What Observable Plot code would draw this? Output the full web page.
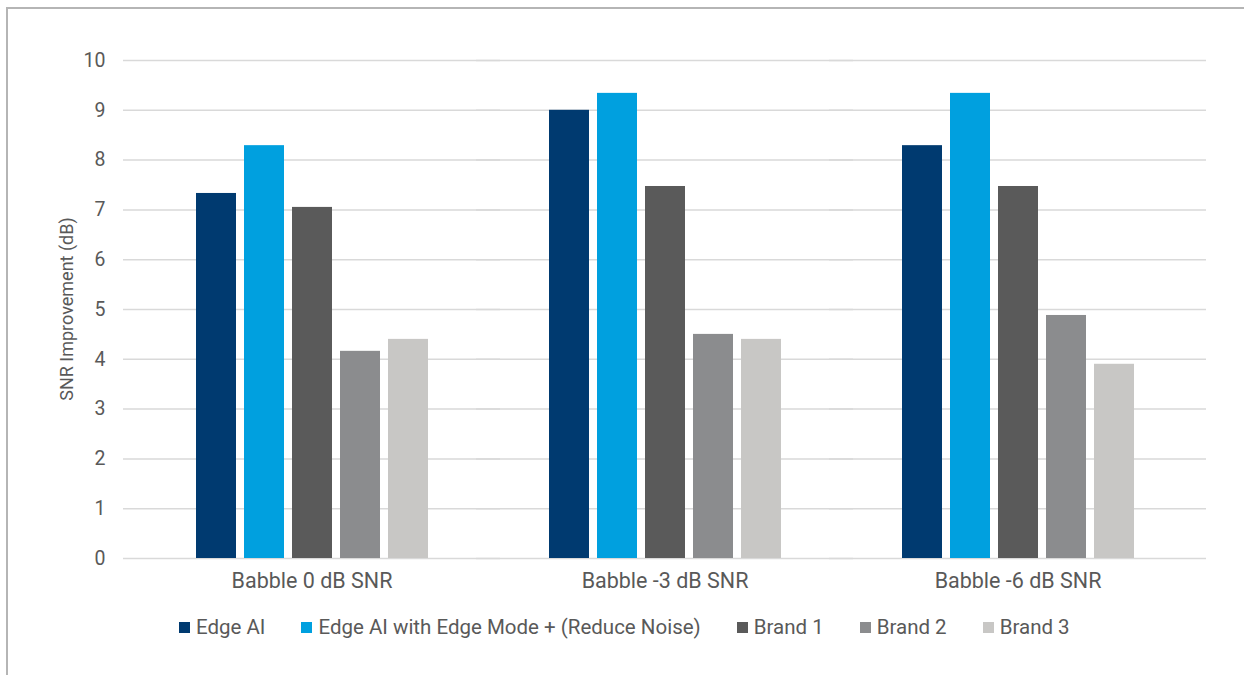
<!DOCTYPE html>
<html>
<head>
<meta charset="utf-8">
<script src="https://cdn.jsdelivr.net/npm/d3@7"></script>
<script src="https://cdn.jsdelivr.net/npm/@observablehq/plot@0.6"></script>
<style>
  html, body { margin: 0; padding: 0; background: #fff; }
  #wrap { position: relative; width: 1244px; height: 675px; overflow: hidden; font-family: Roboto, sans-serif; color: #595959; }
  #frame { position: absolute; left: 6px; top: 7px; width: 1300px; height: 700px; border-top: 2px solid #b5b5b5; border-left: 2px solid #b5b5b5; box-sizing: border-box; }
  #chart { position: absolute; left: 0; top: 0; }
  #legend { position: absolute; left: 179px; top: 615px; display: flex; align-items: center; font-size: 20.5px; white-space: nowrap; }
  .item { display: flex; align-items: center; margin-right: 36px; }
  .sw { width: 11px; height: 11px; margin-right: 6px; }
  #ylabel { position: absolute; left: 66px; top: 309px; transform: translate(-50%, -50%) rotate(-90deg); font-size: 18px; white-space: nowrap; }
  g[aria-label="fx-axis tick label"] text { font-size: 21.5px; }
  g[aria-label="y-axis tick label"] text { font-size: 19.5px; }
</style>
</head>
<body>
<div id="wrap">
  <div id="frame"></div>
  <div id="chart"></div>
  <div id="ylabel"></div>
  <div id="legend"></div>
</div>
<script>
const groups = ["Babble 0 dB SNR", "Babble -3 dB SNR", "Babble -6 dB SNR"];
const series = ["Edge AI", "Edge AI with Edge Mode + (Reduce Noise)", "Brand 1", "Brand 2", "Brand 3"];
const colors = ["#003a70", "#00a0df", "#5a5a5a", "#8b8c8e", "#c8c7c5"];
const edgeAI   = [7.33, 9.00, 8.29];
const edgeMode = [8.29, 9.34, 9.34];
const brand1   = [7.05, 7.47, 7.47];
const brand2   = [4.16, 4.50, 4.88];
const brand3   = [4.40, 4.40, 3.90];
const yTicks = [0, 1, 2, 3, 4, 5, 6, 7, 8, 9, 10];
const yLabel = "SNR Improvement (dB)";

const valuesBySeries = [edgeAI, edgeMode, brand1, brand2, brand3];
const table = [];
groups.forEach((g, gi) => {
  series.forEach((s, si) => {
    table.push({group: g, series: s, value: valuesBySeries[si][gi]});
  });
});

const chart = Plot.plot({
  width: 1244,
  height: 600,
  marginLeft: 195,
  marginRight: 110,
  marginTop: 60,
  marginBottom: 42,
  style: {fontFamily: "Roboto, sans-serif", fontSize: "19px", color: "#595959", background: "transparent", overflow: "visible"},
  fx: {domain: groups, paddingInner: 0.34, paddingOuter: 0, label: null, tickSize: 0, tickPadding: 14, axis: "bottom"},
  x: {domain: series, paddingInner: 0.172, paddingOuter: 0, axis: null},
  y: {domain: [0, 10], ticks: yTicks, tickSize: 0, tickPadding: 90, label: null},
  color: {domain: series, range: colors},
  marks: [
    Plot.ruleY(yTicks, {stroke: "#d9d9d9", strokeWidth: 1.5, insetLeft: -72, insetRight: -72}),
    Plot.barY(table, {fx: "group", x: "series", y: "value", fill: "series"})
  ]
});
document.getElementById("chart").appendChild(chart);
document.getElementById("ylabel").textContent = yLabel;

const legend = document.getElementById("legend");
series.forEach((s, i) => {
  const item = document.createElement("div");
  item.className = "item";
  const sw = document.createElement("div");
  sw.className = "sw";
  sw.style.background = colors[i];
  const t = document.createElement("span");
  t.textContent = s;
  item.appendChild(sw);
  item.appendChild(t);
  legend.appendChild(item);
});
</script>
</body>
</html>
